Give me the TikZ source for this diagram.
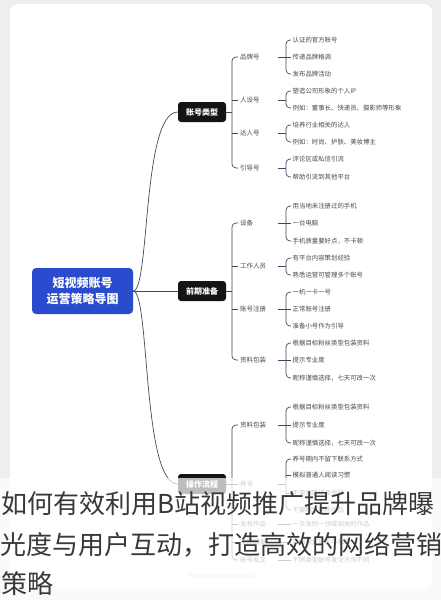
\documentclass[tikz,border=0pt]{standalone}
\usepackage{fontspec}
\newfontfamily\cjk{Noto Sans CJK SC}
\definecolor{bggray}{HTML}{EEEEEE}
\definecolor{mainblue}{HTML}{2B4BCF}
\definecolor{lineC}{HTML}{3E4A5C}
\definecolor{txtC}{HTML}{4A4A4A}
\definecolor{bigtxt}{HTML}{383838}
\definecolor{faint}{HTML}{C4C4C4}
\tikzset{
  mainbox/.style={fill=mainblue, rounded corners=4pt, text=white, align=center,
    font=\cjk\bfseries\fontsize{12}{16.5}\selectfont, minimum width=101pt, minimum height=46pt, inner sep=0pt},
  branchbox/.style={fill=black!92, rounded corners=3pt, text=white,
    font=\cjk\bfseries\fontsize{8}{9}\selectfont, minimum width=48pt, minimum height=20pt, inner sep=0pt},
  lvl/.style={anchor=west, text width=36pt, align=left, inner xsep=2pt, inner ysep=1pt,
    text=txtC, font=\cjk\fontsize{6.5}{7.5}\selectfont},
  item/.style={anchor=west, inner xsep=1.5pt, inner ysep=1pt,
    text=txtC, font=\cjk\fontsize{6.4}{7.5}\selectfont},
  conn/.style={draw=lineC, line width=0.7pt},
  brk/.style={draw=lineC, line width=0.7pt, rounded corners=4pt},
}
\begin{document}
\begin{tikzpicture}[x=1pt,y=-1pt]
\useasboundingbox (0,0) rectangle (441,600);
\fill[bggray] (0,0) rectangle (441,600);
\fill[white, rounded corners=8pt] (10,4) rectangle (432,588);

% main node
\node[mainbox] (main) at (82.5,291) {短视频账号\\运营策略导图};

% branch boxes
\node[branchbox] (b1) at (202,112) {账号类型};
\node[branchbox] (b2) at (202,291) {前期准备};
\node[branchbox] (b3) at (202,484) {操作流程};

\draw[conn] (main.east) .. controls (150,291) and (142,112) .. (b1.west);
\draw[conn] (main.east) -- (b2.west);
\draw[conn] (main.east) .. controls (150,291) and (142,484) .. (b3.west);

% ---------- branch 1 ----------
\node[lvl] (p1) at (238,57) {品牌号};
\node[lvl] (p2) at (238,100) {人设号};
\node[lvl] (p3) at (238,133) {达人号};
\node[lvl] (p4) at (238,168) {引导号};
\coordinate (v1) at (232,112);
\draw[conn] (b1.east) -- (v1);
\draw[brk] (p1.west) -- (232,57) -- (232,168) -- (p4.west);
\draw[conn] (232,100) -- (p2.west);
\draw[conn] (232,133) -- (p3.west);

\node[item] (a1) at (291,40) {认证的官方账号};
\node[item] (a2) at (291,57) {传递品牌格调};
\node[item] (a3) at (291,74) {发布品牌活动};
\draw[brk] (a1.west) -- (286,40) -- (286,74) -- (a3.west);
\draw[conn] (p1.east) -- (a2.west);

\node[item] (a4) at (291,91) {塑造公司形象的个人IP};
\node[item] (a5) at (291,108) {例如：董事长、快递员、摄影师等形象};
\draw[brk] (a4.west) -- (286,91) -- (286,108) -- (a5.west);
\draw[conn] (p2.east) -- (286,100);

\node[item] (a6) at (291,125) {培养行业相关的达人};
\node[item] (a7) at (291,142) {例如：时尚、护肤、美妆博主};
\draw[brk] (a6.west) -- (286,125) -- (286,142) -- (a7.west);
\draw[conn] (p3.east) -- (286,133);

\node[item] (a8) at (291,159) {评论区或私信引流};
\node[item] (a9) at (291,177) {帮助引流到其他平台};
\draw[brk] (a8.west) -- (286,159) -- (286,177) -- (a9.west);
\draw[conn] (p4.east) -- (286,168);

% ---------- branch 2 ----------
\node[lvl] (q1) at (238,223) {设备};
\node[lvl] (q2) at (238,266) {工作人员};
\node[lvl] (q3) at (238,309) {账号注册};
\node[lvl] (q4) at (238,360) {资料包装};
\coordinate (v2) at (232,291);
\draw[conn] (b2.east) -- (v2);
\draw[brk] (q1.west) -- (232,223) -- (232,360) -- (q4.west);
\draw[conn] (232,266) -- (q2.west);
\draw[conn] (232,309) -- (q3.west);

\node[item] (c1) at (291,206) {用当地未注册过的手机};
\node[item] (c2) at (291,223) {一台电脑};
\node[item] (c3) at (291,241) {手机质量要好点，不卡顿};
\draw[brk] (c1.west) -- (286,206) -- (286,241) -- (c3.west);
\draw[conn] (q1.east) -- (c2.west);

\node[item] (c4) at (291,258) {有平台内容策划经验};
\node[item] (c5) at (291,275) {熟悉运营可管理多个账号};
\draw[brk] (c4.west) -- (286,258) -- (286,275) -- (c5.west);
\draw[conn] (q2.east) -- (286,266);

\node[item] (c6) at (291,292) {一机一卡一号};
\node[item] (c7) at (291,309) {正常账号注册};
\node[item] (c8) at (291,326) {准备小号作为引导};
\draw[brk] (c6.west) -- (286,292) -- (286,326) -- (c8.west);
\draw[conn] (q3.east) -- (c7.west);

\node[item] (c9) at (291,343) {根据目标粉丝类型包装资料};
\node[item] (c10) at (291,360) {提示专业度};
\node[item] (c11) at (291,378) {昵称谨慎选择，七天可改一次};
\draw[brk] (c9.west) -- (286,343) -- (286,378) -- (c11.west);
\draw[conn] (q4.east) -- (c10.west);

% ---------- branch 3 ----------
\node[lvl] (r1) at (238,425) {资料包装};
\node[lvl] (r2) at (238,484) {养号};
\node[lvl] (r3) at (238,524) {发布作品};
\node[lvl] (r4) at (238,542) {互动回复};
\node[lvl] (r5) at (238,560) {账号发文};
\coordinate (v3) at (232,484);
\draw[conn] (b3.east) -- (v3);
\draw[brk] (r1.west) -- (232,425) -- (232,560) -- (r5.west);
\draw[conn] (232,484) -- (r2.west);
\draw[conn] (232,524) -- (r3.west);
\draw[conn] (232,542) -- (r4.west);

\node[item] (d1) at (291,407) {根据目标粉丝类型包装资料};
\node[item] (d2) at (291,425) {提示专业度};
\node[item] (d3) at (291,443) {昵称谨慎选择，七天可改一次};
\draw[brk] (d1.west) -- (286,407) -- (286,443) -- (d3.west);
\draw[conn] (r1.east) -- (d2.west);

\node[item] (d4) at (291,459) {养号期内不留下联系方式};
\node[item] (d5) at (291,475) {模拟普通人阅读习惯};
\node[item] (d6) at (291,493) {不要频繁修改资料};
\node[item] (d7) at (291,510) {不要随意删除作品};
\draw[brk] (d4.west) -- (286,459) -- (286,510) -- (d7.west);
\draw[conn] (286,475) -- (d5.west);
\draw[conn] (286,493) -- (d6.west);
\draw[conn] (r2.east) -- (286,484);

\node[item] (d8) at (291,524) {一次发同一领域相关的作品};
\draw[conn] (r3.east) -- (d8.west);
\node[item] (d9) at (291,542) {及时回复评论与私信};
\draw[conn] (r4.east) -- (d9.west);
\node[item] (d10) at (291,560) {不同类型账号发文方向不同};
\draw[conn] (r5.east) -- (d10.west);

\node[text=faint, font=\cjk\fontsize{6.5}{7}\selectfont, inner sep=0pt] (credit) at (221,576) {Presented with xmind};

% ---------- overlay band and title ----------
\fill[white, opacity=0.72] (0,478) rectangle (441,600);
\node[anchor=base west, inner sep=0pt, text=bigtxt, font=\cjk\fontsize{26}{40}\selectfont] (t1) at (1,513) {如何有效利用B站视频推广提升品牌曝};
\node[anchor=base west, inner sep=0pt, text=bigtxt, font=\cjk\fontsize{26}{40}\selectfont] (t2) at (0,554) {光度与用户互动，打造高效的网络营销};
\node[anchor=base west, inner sep=0pt, text=bigtxt, font=\cjk\fontsize{26}{40}\selectfont] (t3) at (1,593) {策略};
\end{tikzpicture}
\end{document}
